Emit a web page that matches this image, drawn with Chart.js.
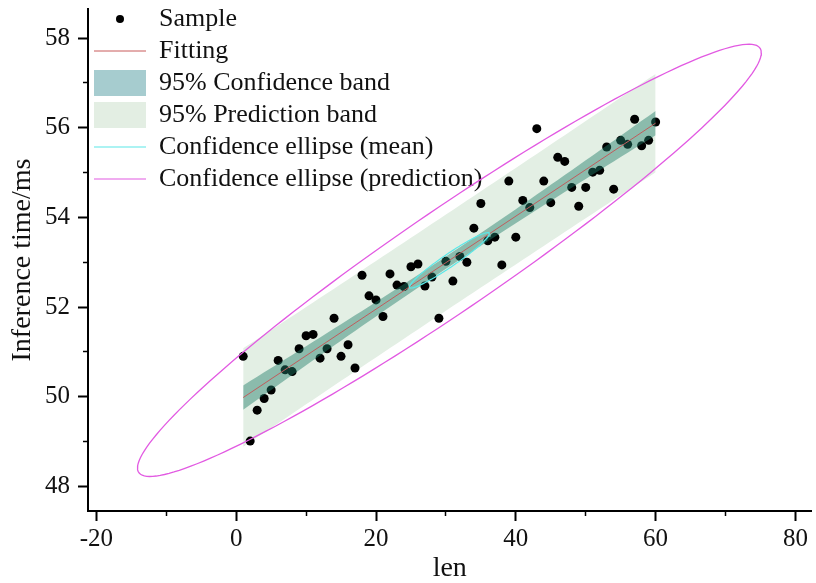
<!DOCTYPE html>
<html>
<head>
<meta charset="utf-8">
<script src="https://cdn.jsdelivr.net/npm/chart.js@4.4.1/dist/chart.umd.min.js"></script>
<style>
  html, body { margin: 0; padding: 0; background: #fff; }
  #box { width: 816px; height: 583px; }
</style>
</head>
<body>
<div id="box"><canvas id="chart" width="816" height="583"></canvas></div>
<script>
// samples
const lenValues = [1, 2, 3, 4, 5, 6, 7, 8, 9, 10, 11, 12, 13, 14, 15, 16, 17, 18, 19, 20,
  21, 22, 23, 24, 25, 26, 27, 28, 29, 30, 31, 32, 33, 34, 35, 36, 37, 38, 39, 40,
  41, 42, 43, 44, 45, 46, 47, 48, 49, 50, 51, 52, 53, 54, 55, 56, 57, 58, 59, 60];
const timeValues = [50.90, 49.01, 49.70, 49.96, 50.15, 50.81, 50.60, 50.56, 51.07, 51.36,
  51.39, 50.86, 51.07, 51.75, 50.90, 51.16, 50.64, 52.71, 52.25, 52.16,
  51.79, 52.74, 52.49, 52.46, 52.90, 52.96, 52.47, 52.67, 51.75, 53.02,
  52.58, 53.13, 53.00, 53.76, 54.31, 53.48, 53.56, 52.94, 54.81, 53.56,
  54.38, 54.22, 55.98, 54.81, 54.33, 55.34, 55.25, 54.67, 54.25, 54.67,
  55.01, 55.05, 55.57, 54.63, 55.72, 55.63, 56.19, 55.60, 55.72, 56.13];
const xTickLabels = [-20, 0, 20, 40, 60, 80];
const yTickLabels = [48, 50, 52, 54, 56, 58];
const legendNames = ['Sample', 'Fitting', '95% Confidence band', '95% Prediction band',
  'Confidence ellipse (mean)', 'Confidence ellipse (prediction)'];

// critical values for n = 60 (df = 58)
const tCrit = 2.0017;
const fCrit = 3.1559;

const serif = "'Liberation Serif', 'Times New Roman', serif";

// linear regression
const n = lenValues.length;
let mx = 0, my = 0;
for (let i = 0; i < n; i++) { mx += lenValues[i]; my += timeValues[i]; }
mx /= n; my /= n;
let sxx = 0, sxy = 0, syy = 0;
for (let i = 0; i < n; i++) {
  let dx = lenValues[i] - mx, dy = timeValues[i] - my;
  sxx += dx * dx; sxy += dx * dy; syy += dy * dy;
}
const slope = sxy / sxx;
const intercept = my - slope * mx;
const sRes = Math.sqrt((syy - slope * sxy) / (n - 2));

function fitAt(x) { return intercept + slope * x; }

let confLow = [], confHigh = [], predLow = [], predHigh = [];
lenValues.forEach(x => {
  let h = (x - mx) * (x - mx) / sxx;
  let c = tCrit * sRes * Math.sqrt(1 / n + h);
  let p = tCrit * sRes * Math.sqrt(1 + 1 / n + h);
  confLow.push({x: x, y: fitAt(x) - c});
  confHigh.push({x: x, y: fitAt(x) + c});
  predLow.push({x: x, y: fitAt(x) - p});
  predHigh.push({x: x, y: fitAt(x) + p});
});
const fitLine = [
  {x: lenValues[0], y: fitAt(lenValues[0])},
  {x: lenValues[n - 1], y: fitAt(lenValues[n - 1])}
];

// confidence ellipses from the sample covariance
function ellipse(k2) {
  let cxx = sxx / (n - 1), cyy = syy / (n - 1), cxy = sxy / (n - 1);
  let a = Math.sqrt(cxx), b = cxy / a, c = Math.sqrt(cyy - b * b);
  let k = Math.sqrt(k2);
  let pts = [];
  for (let j = 0; j <= 180; j++) {
    let t = j / 180 * 2 * Math.PI;
    let u = Math.cos(t), v = Math.sin(t);
    pts.push({x: mx + k * a * u, y: my + k * (b * u + c * v)});
  }
  return pts;
}
const meanEllipse = ellipse(2 * (n - 1) / (n * (n - 2)) * fCrit);
const predEllipse = ellipse(2 * (n + 1) * (n - 1) / (n * (n - 2)) * fCrit);

const samples = lenValues.map((x, i) => ({x: x, y: timeValues[i]}));

function lineSet(data, color, width, order, extra) {
  return Object.assign({
    data: data, showLine: true, borderColor: color, borderWidth: width,
    pointRadius: 0, pointHoverRadius: 0, fill: false, tension: 0, order: order
  }, extra || {});
}

function legendItems() {
  let dot = document.createElement('canvas');
  dot.width = 10; dot.height = 10;
  let c = dot.getContext('2d');
  c.fillStyle = '#000';
  c.beginPath(); c.arc(5, 5, 4, 0, Math.PI * 2); c.fill();
  const col = '#111';
  return [
    {text: legendNames[0], pointStyle: dot, fillStyle: '#000', strokeStyle: '#000', lineWidth: 0, fontColor: col, rotation: 0, datasetIndex: 0},
    {text: legendNames[1], pointStyle: 'line', fillStyle: 'rgb(200,90,90)', strokeStyle: 'rgb(200,90,90)', lineWidth: 1, fontColor: col, rotation: 0, datasetIndex: 1},
    {text: legendNames[2], pointStyle: 'rect', fillStyle: 'rgb(166,204,207)', strokeStyle: 'rgba(0,0,0,0)', lineWidth: 0, fontColor: col, rotation: 0, datasetIndex: 3},
    {text: legendNames[3], pointStyle: 'rect', fillStyle: 'rgb(227,238,227)', strokeStyle: 'rgba(0,0,0,0)', lineWidth: 0, fontColor: col, rotation: 0, datasetIndex: 5},
    {text: legendNames[4], pointStyle: 'line', fillStyle: 'rgb(90,232,232)', strokeStyle: 'rgb(90,232,232)', lineWidth: 1.2, fontColor: col, rotation: 0, datasetIndex: 6},
    {text: legendNames[5], pointStyle: 'line', fillStyle: 'rgb(226,90,226)', strokeStyle: 'rgb(226,90,226)', lineWidth: 1.2, fontColor: col, rotation: 0, datasetIndex: 7}
  ];
}

function isMajor(ctx, list) {
  return ctx.tick && list.includes(ctx.tick.value);
}

new Chart(document.getElementById('chart'), {
  type: 'scatter',
  data: {
    datasets: [
      {data: samples, backgroundColor: '#000', borderWidth: 0, pointRadius: 4.5, pointHoverRadius: 4.5, order: 6},
      lineSet(fitLine, 'rgb(192,92,92)', 1, 3),
      lineSet(confLow, 'rgba(0,0,0,0)', 1, 5),
      lineSet(confHigh, 'rgba(0,0,0,0)', 1, 4, {fill: 2, backgroundColor: 'rgba(30,125,105,0.45)'}),
      lineSet(predLow, 'rgba(0,0,0,0)', 1, 8),
      lineSet(predHigh, 'rgba(0,0,0,0)', 1, 7, {fill: 4, backgroundColor: 'rgb(227,239,228)'}),
      lineSet(meanEllipse, 'rgb(90,232,232)', 1.2, 2),
      lineSet(predEllipse, 'rgb(226,90,226)', 1.3, 1)
    ]
  },
  options: {
    responsive: false,
    animation: false,
    layout: { padding: { left: 0, right: 1, top: 9, bottom: 0 } },
    plugins: {
      tooltip: { enabled: false },
      legend: {
        position: 'chartArea',
        align: 'start',
        labels: {
          usePointStyle: true,
          pointStyleWidth: 52,
          boxHeight: 26,
          padding: 6,
          color: '#111',
          font: { family: serif, size: 26 },
          generateLabels: legendItems
        }
      }
    },
    scales: {
      x: {
        type: 'linear',
        min: -21.2,
        max: 82.3,
        afterFit(scale) {
          scale.height = 72;
          scale.paddingLeft = 0;
          scale.paddingRight = 0;
        },
        border: { display: true, color: '#000', width: 2 },
        grid: {
          drawOnChartArea: false,
          drawTicks: true,
          tickLength: 10,
          tickColor: '#000',
          tickWidth: ctx => isMajor(ctx, xTickLabels) ? 2 : 1.5,
          tickBorderDash: ctx => isMajor(ctx, xTickLabels) ? [] : [4, 40],
          tickBorderDashOffset: 0
        },
        ticks: {
          stepSize: 10,
          includeBounds: false,
          autoSkip: false,
          maxRotation: 0,
          padding: 3,
          color: '#111',
          font: { family: serif, size: 25 },
          callback: v => xTickLabels.includes(v) ? String(v) : ''
        },
        title: {
          display: true,
          text: 'len',
          color: '#111',
          font: { family: serif, size: 28, lineHeight: 1 },
          padding: { top: 4, bottom: 0 }
        }
      },
      y: {
        type: 'linear',
        min: 47.45,
        max: 58.65,
        afterFit(scale) {
          scale.width = 88;
          scale.paddingTop = 0;
          scale.paddingBottom = 0;
        },
        border: { display: true, color: '#000', width: 2 },
        grid: {
          drawOnChartArea: false,
          drawTicks: true,
          tickLength: 10,
          tickColor: '#000',
          tickWidth: ctx => isMajor(ctx, yTickLabels) ? 2 : 1.5,
          tickBorderDash: ctx => isMajor(ctx, yTickLabels) ? [] : [5, 5],
          tickBorderDashOffset: ctx => isMajor(ctx, yTickLabels) ? 0 : 5
        },
        ticks: {
          stepSize: 1,
          includeBounds: false,
          autoSkip: false,
          padding: 8,
          color: '#111',
          font: { family: serif, size: 25 },
          callback: v => yTickLabels.includes(v) ? String(v) : ''
        },
        title: {
          display: true,
          text: 'Inference time/ms',
          color: '#111',
          font: { family: serif, size: 28, lineHeight: 1 },
          padding: { top: 9, bottom: 4 }
        }
      }
    }
  }
});
</script>
</body>
</html>
